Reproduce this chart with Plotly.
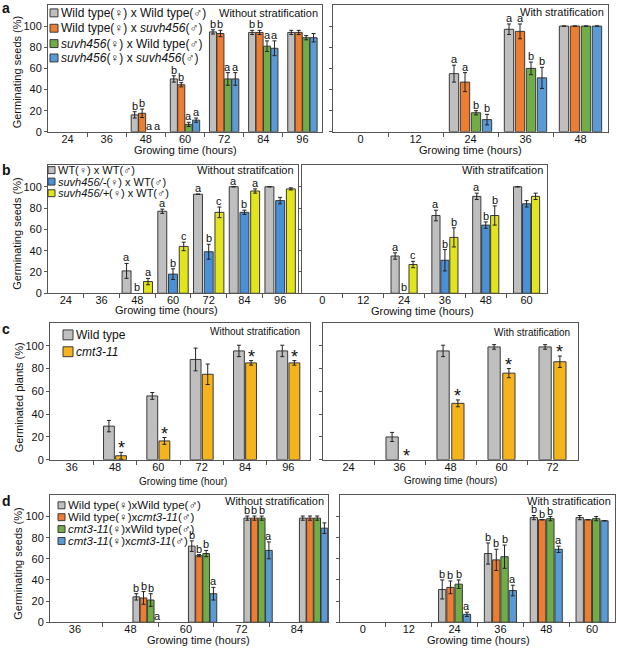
import plotly.graph_objects as go

W, H = 617, 653
FONT = "Liberation Sans, Arial, sans-serif"
LINE = "#555555"

# colours
GRAY = "#BFBFBF"
ORANGE = "#ED7D31"
GREEN = "#70AD47"
BLUE = "#5B9BD5"
BLUE_B = "#4A90D6"
YELLOW_B = "#E2E41C"
YELLOW_C = "#F5B31C"

# ---------------- panel a ----------------
a_left_cats = ["24", "36", "48", "60", "72", "84", "96"]
a_right_cats = ["0", "12", "24", "36", "48"]
a_names = ["Wild type(♀) x Wild type(♂)",
           "Wild type(♀) x <i>suvh456</i>(♂)",
           "<i>suvh456</i>(♀) x Wild type(♂)",
           "<i>suvh456</i>(♀) x <i>suvh456</i>(♂)"]
a_left_vals = [[0, 0, 16, 50, 94.5, 94, 94],
               [0, 0, 17.5, 44.5, 93, 94, 94],
               [0, 0, 0, 7, 50, 81, 89],
               [0, 0, 0, 11, 50, 79, 89]]
a_left_err = [[0, 0, 3, 3, 2, 2, 2],
              [0, 0, 4, 2, 3, 2, 2],
              [0, 0, 0, 2, 6, 5, 2],
              [0, 0, 0, 2, 6, 7, 4]]
a_left_sig = [["", "", "b", "b", "b", "b", ""],
              ["", "", "b", "b", "b", "b", ""],
              ["", "", "a", "a", "a", "a", ""],
              ["", "", "a", "a", "a", "a", ""]]
a_right_vals = [[0, 0, 55, 97, 100],
                [0, 0, 47, 95, 100],
                [0, 0, 18, 60, 100],
                [0, 0, 11.5, 51, 100]]
a_right_err = [[0, 0, 8, 5, 0],
               [0, 0, 9, 7, 0],
               [0, 0, 2, 6, 0],
               [0, 0, 5, 10, 0]]
a_right_sig = [["", "", "a", "a", ""],
               ["", "", "a", "a", ""],
               ["", "", "b", "b", ""],
               ["", "", "b", "b", ""]]

# ---------------- panel b ----------------
b_left_cats = ["24", "36", "48", "60", "72", "84", "96"]
b_right_cats = ["0", "12", "24", "36", "48", "60"]
b_names = ["WT(♀) x WT(♂)",
           "<i>suvh456/-</i>(♀) x WT(♂)",
           "<i>suvh456/+</i>(♀) x WT(♂)"]
b_left_vals = [[0, 0, 21, 77, 93, 100, 100],
               [0, 0, 0, 18, 39, 76, 87],
               [0, 0, 11, 44, 76, 96, 98]]
b_left_err = [[0, 0, 7, 2, 0, 0, 0],
              [0, 0, 0, 5, 7, 2, 3],
              [0, 0, 3, 4, 5, 2, 1]]
b_left_sig = [["", "", "a", "a", "a", "a", ""],
              ["", "", "b", "b", "b", "b", ""],
              ["", "", "a", "c", "c", "a", ""]]
b_right_vals = [[0, 0, 35, 73, 91, 100],
                [0, 0, 0, 31, 64, 84],
                [0, 0, 27, 52.5, 73, 91]]
b_right_err = [[0, 0, 3, 5, 3, 0],
               [0, 0, 0, 10, 3, 3],
               [0, 0, 3, 9, 9, 3]]
b_right_sig = [["", "", "a", "a", "a", ""],
               ["", "", "b", "b", "b", ""],
               ["", "", "c", "b", "b", ""]]

# ---------------- panel c ----------------
c_left_cats = ["36", "48", "60", "72", "84", "96"]
c_right_cats = ["24", "36", "48", "60", "72"]
c_names = ["Wild type", "<i>cmt3-11</i>"]
c_left_vals = [[0, 29.5, 56, 88, 95.5, 95.5],
               [0, 3.5, 16.5, 75, 85, 85]]
c_left_err = [[0, 5, 3, 10, 5, 5],
              [0, 3, 3, 9, 2, 2]]
c_left_sig = [["", "", "", "", "", ""],
              ["", "*", "*", "", "*", "*"]]
c_right_vals = [[0, 20, 95.5, 99, 99],
                [0, 0, 49.5, 76, 86]]
c_right_err = [[0, 4, 5, 2, 2],
               [0, 0, 3, 4, 5]]
c_right_sig = [["", "", "", "", ""],
               ["", "*", "*", "*", "*"]]

# ---------------- panel d ----------------
d_left_cats = ["36", "48", "60", "72", "84"]
d_right_cats = ["0", "12", "24", "36", "48", "60"]
d_names = ["Wild type(♀)xWild type(♂)",
           "Wild type(♀)x<i>cmt3-11</i>(♂)",
           "<i>cmt3-11</i>(♀)xWild type(♂)",
           "<i>cmt3-11</i>(♀)x<i>cmt3-11</i>(♂)"]
d_left_vals = [[0, 24, 72, 98.5, 98.5],
               [0, 23, 63, 98.5, 98.5],
               [0, 21, 65, 98.5, 98.5],
               [0, 0, 27, 68, 89]]
d_left_err = [[0, 3, 5, 2, 2],
              [0, 6, 1, 2, 2],
              [0, 6, 3, 2, 2],
              [0, 0, 6, 8, 5]]
d_left_sig = [["", "b", "b", "b", ""],
              ["", "b", "b", "b", ""],
              ["", "b", "b", "b", ""],
              ["", "a", "a", "a", ""]]
d_right_vals = [[0, 0, 31, 65, 99, 99],
                [0, 0, 33, 59, 97, 97],
                [0, 0, 36, 62, 98, 98],
                [0, 0, 7.5, 30, 69, 96]]
d_right_err = [[0, 0, 9, 10, 2, 2],
               [0, 0, 6, 10, 0, 0],
               [0, 0, 4, 11, 2, 2],
               [0, 0, 2, 5, 3, 0]]
d_right_sig = [["", "", "b", "b", "b", ""],
               ["", "", "b", "b", "b", ""],
               ["", "", "b", "b", "b", ""],
               ["", "", "a", "a", "a", ""]]

y_ticks = [0, 20, 40, 60, 80, 100]


def X(px):
    return px / W


def Y(py):
    return 1 - py / H


fig = go.Figure()


def setup_axes(k, cats, xpx, ypx, labels, xrange=None):
    xs = "" if k == 1 else str(k)
    n = len(cats)
    fig.update_layout({
        "xaxis" + xs: dict(domain=[X(xpx[0]), X(xpx[1])], anchor="y" + xs,
                           range=xrange or [-0.5, n - 0.5], tickmode="array",
                           tickvals=list(range(n)), ticktext=cats, ticks="", ticklen=0,
                           ticklabelstandoff=-3,
                           showline=True, mirror=True, linecolor=LINE, linewidth=1,
                           showgrid=False, zeroline=False,
                           minor=dict(tickmode="array", ticks="outside", ticklen=4,
                                      tickcolor=LINE,
                                      tickvals=[i + 0.5 for i in range(n - 1)]),
                           tickfont=dict(family=FONT, size=11, color="#111")),
        "yaxis" + xs: dict(domain=[Y(ypx[1]), Y(ypx[0])], anchor="x" + xs,
                           range=[0, 120], tickmode="array", tickvals=y_ticks,
                           ticks="outside", ticklen=3, tickcolor=LINE,
                           showticklabels=labels, showline=True, mirror=True,
                           linecolor=LINE, linewidth=1, showgrid=False,
                           zeroline=False,
                           tickfont=dict(family=FONT, size=11, color="#111")),
    })


def add_bars(k, vals, errs, sigs, colors, bar_w, step, shift=0.0,
             sig_size=11, sig_shift=-2):
    xs = "" if k == 1 else str(k)
    n = len(vals)
    for j in range(n):
        c = (j - (n - 1) / 2) * step + shift
        idx = list(range(len(vals[j])))
        # zero-height bars are left empty so no stub or cap is drawn on the axis
        fig.add_trace(go.Bar(
            x=idx, y=[v if v > 0 else None for v in vals[j]],
            width=bar_w, offset=c - bar_w / 2,
            marker=dict(color=colors[j], line=dict(color="#3a3a3a", width=1)),
            error_y=dict(type="data", array=errs[j], visible=True,
                         color="#222", thickness=1, width=2),
            xaxis="x" + xs, yaxis="y" + xs, showlegend=False, hoverinfo="skip"))
        for i in idx:
            if sigs[j][i]:
                fig.add_annotation(x=i + c, y=vals[j][i] + errs[j][i],
                                   xref="x" + xs, yref="y" + xs,
                                   text=sigs[j][i], showarrow=False,
                                   yanchor="bottom", yshift=sig_shift,
                                   font=dict(family=FONT, size=sig_size, color="#111"))


def add_legend(names, colors, x0, rows, size, fsize):
    for name, col, yc in zip(names, colors, rows):
        fig.add_shape(type="rect", xref="paper", yref="paper",
                      x0=X(x0), x1=X(x0 + size), y0=Y(yc + size / 2), y1=Y(yc - size / 2),
                      fillcolor=col, line=dict(color="#3a3a3a", width=1))
        fig.add_annotation(xref="paper", yref="paper", x=X(x0 + size + 1), y=Y(yc),
                           xanchor="left", yanchor="middle", text=name, showarrow=False,
                           font=dict(family=FONT, size=fsize, color="#111"))


def text(x, y, s, size=11, anchor="center", angle=0, bold=False):
    fig.add_annotation(xref="paper", yref="paper", x=X(x), y=Y(y), text=("<b>%s</b>" % s if bold else s),
                       xanchor=anchor, yanchor="middle", showarrow=False, textangle=angle,
                       font=dict(family=FONT, size=size, color="#111"))


cols4 = [GRAY, ORANGE, GREEN, BLUE]
cols_b = [GRAY, BLUE_B, YELLOW_B]
cols_c = [GRAY, YELLOW_C]

# panel a
setup_axes(1, a_left_cats, (48, 322), (5, 133), True)
setup_axes(2, a_right_cats, (333, 608), (5, 133), False)
add_bars(1, a_left_vals, a_left_err, a_left_sig, cols4, 0.18, 0.19)
add_bars(2, a_right_vals, a_right_err, a_right_sig, cols4, 0.17, 0.2)
add_legend(a_names, cols4, 50, [13, 28.5, 44, 58.5], 8, 12)
text(320, 13, "Without stratification", size=11, anchor="right")
text(606, 12, "With stratification", size=11, anchor="right")
text(185, 151, "Growing time (hours)")
text(470, 151, "Growing time (hours)")
text(17, 73, "Germinating seeds (%)", angle=-90)
text(6, 8, "a", size=14, bold=True)

# panel b
setup_axes(3, b_left_cats, (48, 298), (167, 296), True)
setup_axes(4, b_right_cats, (302, 547), (167, 296), False)
add_bars(3, b_left_vals, b_left_err, b_left_sig, cols_b, 0.25, 0.3)
add_bars(4, b_right_vals, b_right_err, b_right_sig, cols_b, 0.2, 0.22)
add_legend(b_names, cols_b, 48, [171.7, 183.3, 195], 7, 11)
text(296, 172, "Without stratifcation", size=11, anchor="right")
text(545, 172, "With stratifcation", size=11, anchor="right")
text(166, 313, "Growing time (hours)")
text(422, 314, "Growing time (hours)")
text(17, 236, "Germinating seeds (%)", angle=-90)
text(6, 172, "b", size=14, bold=True)

# panel c
setup_axes(5, c_left_cats, (50, 310), (326, 464), True)
setup_axes(6, c_right_cats, (323, 578), (326, 464), False)
add_bars(5, c_left_vals, c_left_err, c_left_sig, cols_c, 0.25, 0.28, 0, 18, -8)
add_bars(6, c_right_vals, c_right_err, c_right_sig, cols_c, 0.24, 0.29, 0, 18, -8)
add_legend(c_names, cols_c, 63, [338, 355], 10, 12)
text(302, 335, "Without stratification", size=10, anchor="right")
text(572, 336, "With stratification", size=10, anchor="right")
text(183, 486, "Growing time (hour)", size=10)
text(451, 485, "Growing time (hours)", size=10)
text(19, 401, "Germinated plants (%)", angle=-90)
text(6, 332, "c", size=14, bold=True)

# panel d
setup_axes(7, d_left_cats, (50, 328), (500, 628), True, xrange=[-0.45, 4.56])
setup_axes(8, d_right_cats, (340, 615), (500, 628), False)
add_bars(7, d_left_vals, d_left_err, d_left_sig, cols4, 0.12, 0.13, 0.3)
add_bars(8, d_right_vals, d_right_err, d_right_sig, cols4, 0.16, 0.18)
add_legend(d_names, cols4, 58, [510, 522, 534, 546], 7, 11.5)
text(326, 506, "Without stratification", size=11, anchor="right")
text(613, 506, "With stratification", size=11, anchor="right")
text(198, 646, "Growing time (hours)")
text(478, 646, "Growing time (hours)")
text(18, 569, "Germinating seeds (%)", angle=-90)
text(6, 506, "d", size=14, bold=True)

fig.update_layout(width=W, height=H, autosize=False, barmode="overlay",
                  margin=dict(l=0, r=0, t=0, b=0),
                  paper_bgcolor="white", plot_bgcolor="white",
                  font=dict(family=FONT, size=11, color="#111"))

# the page body has an 8px default margin; remove it so the figure fills the window
fig.write_html("out.html", config={"displayModeBar": False},
               post_script="document.body.style.margin='0';")
